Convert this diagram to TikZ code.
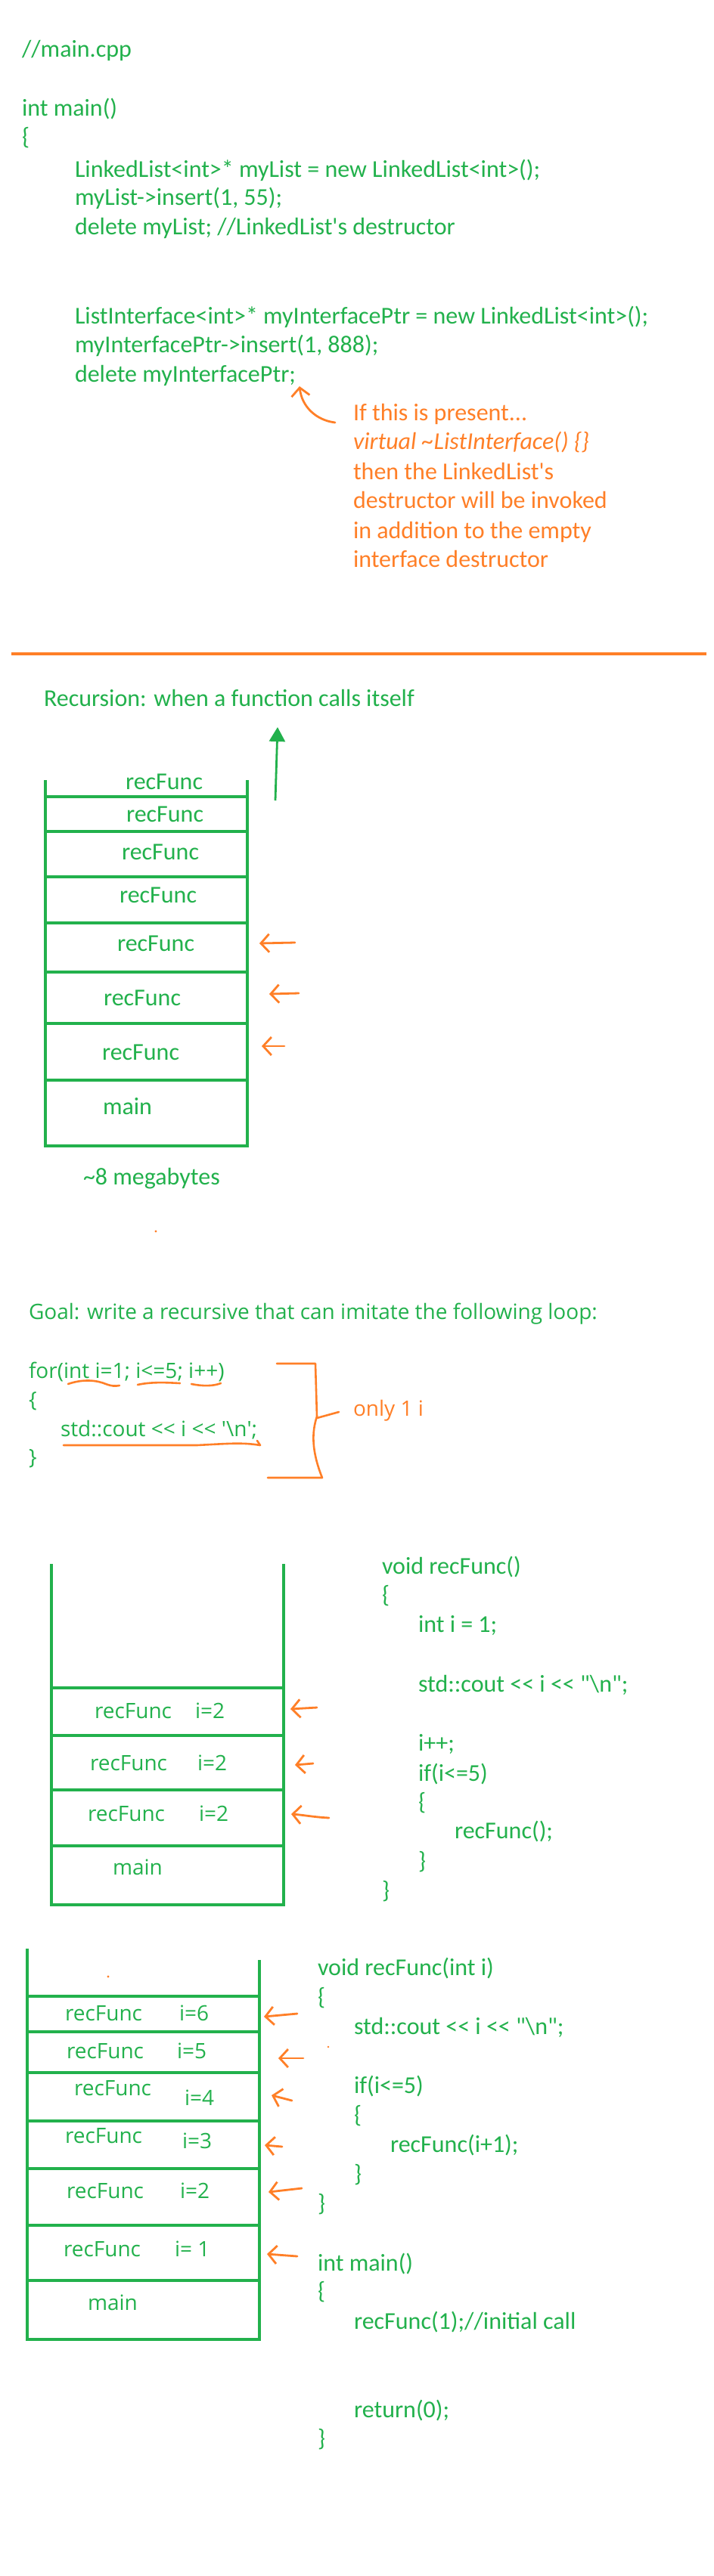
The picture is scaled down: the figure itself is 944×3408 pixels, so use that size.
\documentclass[tikz,border=0pt]{standalone}
\usepackage{fontspec}
\newfontfamily\calfnt{Carlito}
\newfontfamily\segfnt{Open Sans}
\usetikzlibrary{arrows.meta}
\definecolor{pg}{HTML}{22B14C}
\definecolor{po}{HTML}{FF7F27}
\begin{document}
\begin{tikzpicture}[x=1pt,y=-1pt,
  every node/.style={inner sep=0pt,outer sep=0pt},
  cal/.style={anchor=base west,font=\calfnt\fontsize{32}{38}\selectfont,text=pg},
  calo/.style={cal,text=po},
  sg/.style={anchor=base west,font=\segfnt\fontsize{28}{33}\selectfont,text=pg},
  sgo/.style={sg,text=po},
  stk/.style={draw=pg,line width=4.5pt},
  harrow/.style={draw=po,line width=2.8pt,line cap=round,line join=round,-{Straight Barb[length=11pt,width=24pt]}},
  oline/.style={draw=po,line width=2.6pt,line cap=round,line join=round},
  dot/.style={fill=po,draw=none}
]
\useasboundingbox[fill=white] (0,0) rectangle (944,3408);

% ---------- Section 1 ----------
\node[cal] (t1) at (29,75) {//main.cpp};
\node[cal] (t2) at (29,153) {int main()};
\node[cal] (t3) at (29,191) {\{};
\node[cal] (t4) at (99,234) {LinkedList<int>* myList = new LinkedList<int>();};
\node[cal] (t5) at (99,271) {myList->insert(1, 55);};
\node[cal] (t6) at (99,310) {delete myList; //LinkedList\textquotesingle s destructor};
\node[cal] (t7) at (99,428) {ListInterface<int>* myInterfacePtr = new LinkedList<int>();};
\node[cal] (t8) at (99,466) {myInterfacePtr->insert(1, 888);};
\node[cal] (t9) at (99,505) {delete myInterfacePtr;};

\node[calo] (n1) at (467,556) {If this is present...};
\node[calo] (n2) at (467,594) {\itshape virtual \textasciitilde ListInterface() \{\}};
\node[calo] (n3) at (467,634) {then the LinkedList\textquotesingle s};
\node[calo] (n4) at (467,672) {destructor will be invoked};
\node[calo] (n5) at (467,712) {in addition to the empty};
\node[calo] (n6) at (467,750) {interface destructor};

\coordinate (a0s) at (443,559);
\coordinate (a0e) at (396,511);
\draw[harrow] (a0s) .. controls (418,556) and (399,538) .. (a0e);

% ---------- Section 2 ----------
\coordinate (r1) at (15,865);
\coordinate (r2) at (934,865);
\draw[po,line width=4pt] (r1) -- (r2);

\node[cal] (rec) at (58,934) {Recursion: when a function calls itself};
\coordinate (g1) at (364,1059);
\coordinate (g2) at (367,962);
\draw[pg,line width=2.8pt,-{Triangle[length=19pt,width=21pt]}] (g1) -- (g2);

\draw[stk] (60,1032) -- (60,1516) -- (327,1516) -- (327,1032);
\foreach \yy in {1054,1100,1160,1221,1286,1354,1429}
  \draw[stk] (60,\yy) -- (328,\yy);

\node[cal] (s1a) at (166,1044) {recFunc};
\node[cal] (s1b) at (167,1087) {recFunc};
\node[cal] (s1c) at (161,1137) {recFunc};
\node[cal] (s1d) at (158,1194) {recFunc};
\node[cal] (s1e) at (155,1258) {recFunc};
\node[cal] (s1f) at (137,1330) {recFunc};
\node[cal] (s1g) at (135,1402) {recFunc};
\node[cal] (s1m) at (136,1474) {main};
\node[cal] (mb) at (110,1567) {\textasciitilde 8 megabytes};

\coordinate (b1s) at (390,1247); \coordinate (b1e) at (343,1248);
\coordinate (b2s) at (395,1314); \coordinate (b2e) at (356,1315);
\coordinate (b3s) at (376,1384); \coordinate (b3e) at (346,1384);
\draw[harrow] (b1s) -- (b1e);
\draw[harrow] (b2s) -- (b2e);
\draw[harrow] (b3s) -- (b3e);

% ---------- Section 3 ----------
\fill[dot] (206,1629) circle (1.6);
\node[sg] (goal) at (38,1745) {Goal: write a recursive that can imitate the following loop:};
\node[sg] (f1) at (38,1823) {for(int i=1; i<=5; i++)};
\node[sg] (f2) at (38,1861) {\{};
\node[sg] (f3) at (80,1900) {std::cout << i << \textquotesingle\textbackslash n\textquotesingle;};
\node[sg] (f4) at (38,1937) {\}};

\draw[oline] (90,1831) .. controls (110,1824) and (128,1826) .. (140,1831) .. controls (148,1834) and (152,1834) .. (158,1833);
\draw[oline] (182,1832) .. controls (200,1828) and (220,1829) .. (238,1830);
\draw[oline] (253,1831) .. controls (268,1834) and (282,1834) .. (292,1830);
\draw[oline] (84,1912) -- (260,1912) .. controls (300,1910) and (320,1908) .. (344,1912) -- (340,1906);

\draw[oline] (366,1804) -- (417,1804) -- (419,1874) .. controls (412,1895) and (412,1920) .. (426,1955) -- (354,1955);
\draw[oline] (419,1876) -- (448,1868);
\node[sgo] (only) at (467,1873) {only 1 i};

\draw[stk] (68,2069) -- (68,2520) -- (375,2520) -- (375,2069);
\foreach \yy in {2233,2296,2368,2442}
  \draw[stk] (68,\yy) -- (375,\yy);

\node[sg] (s2a) at (125,2273) {recFunc};
\node[sg] (s2ai) at (258,2273) {i=2};
\node[sg] (s2b) at (119,2342) {recFunc};
\node[sg] (s2bi) at (261,2342) {i=2};
\node[sg] (s2c) at (116,2409) {recFunc};
\node[sg] (s2ci) at (263,2409) {i=2};
\node[sg] (s2m) at (149,2480) {main};

\coordinate (c1s) at (419,2259); \coordinate (c1e) at (384,2261);
\coordinate (c2s) at (414,2333); \coordinate (c2e) at (390,2335);
\coordinate (c3s) at (435,2405); \coordinate (c3e) at (385,2400);
\draw[harrow] (c1s) -- (c1e);
\draw[harrow] (c2s) -- (c2e);
\draw[harrow] (c3s) .. controls (415,2404) and (400,2401) .. (c3e);

\node[cal] (v1) at (505,2082) {void recFunc()};
\node[cal] (v2) at (505,2120) {\{};
\node[cal] (v3) at (553,2159) {int i = 1;};
\node[cal] (v4) at (553,2238) {std::cout << i << "\textbackslash n";};
\node[cal] (v5) at (553,2316) {i++;};
\node[cal] (v6) at (553,2356) {if(i<=5)};
\node[cal] (v7) at (553,2394) {\{};
\node[cal] (v8) at (601,2432) {recFunc();};
\node[cal] (v9) at (553,2472) {\}};
\node[cal] (v10) at (505,2511) {\}};

% ---------- Section 4 ----------
\fill[dot] (143,2615) circle (1.6);
\fill[dot] (434,2708) circle (1.3);
\draw[stk] (36,2578) -- (36,3095) -- (343,3095) -- (343,2593);
\foreach \yy in {2641,2688,2742,2806,2869,2944,3017}
  \draw[stk] (36,\yy) -- (344,\yy);

\node[sg] (s3a) at (86,2673) {recFunc};
\node[sg] (s3ai) at (237,2673) {i=6};
\node[sg] (s3b) at (88,2723) {recFunc};
\node[sg] (s3bi) at (234,2723) {i=5};
\node[sg] (s3c) at (98,2772) {recFunc};
\node[sg] (s3ci) at (244,2785) {i=4};
\node[sg] (s3d) at (86,2835) {recFunc};
\node[sg] (s3di) at (241,2842) {i=3};
\node[sg] (s3e) at (88,2908) {recFunc};
\node[sg] (s3ei) at (238,2908) {i=2};
\node[sg] (s3f) at (84,2985) {recFunc};
\node[sg] (s3fi) at (231,2985) {i= 1};
\node[sg] (s3m) at (116,3056) {main};

\coordinate (d1s) at (393,2664); \coordinate (d1e) at (349,2668);
\coordinate (d2s) at (401,2723); \coordinate (d2e) at (368,2723);
\coordinate (d3s) at (386,2779); \coordinate (d3e) at (359,2772);
\coordinate (d4s) at (373,2840); \coordinate (d4e) at (350,2838);
\coordinate (d5s) at (399,2895); \coordinate (d5e) at (355,2900);
\coordinate (d6s) at (393,2985); \coordinate (d6e) at (353,2982);
\draw[harrow] (d1s) -- (d1e);
\draw[harrow] (d2s) -- (d2e);
\draw[harrow] (d3s) -- (d3e);
\draw[harrow] (d4s) -- (d4e);
\draw[harrow] (d5s) -- (d5e);
\draw[harrow] (d6s) -- (d6e);

\node[cal] (w1) at (420,2613) {void recFunc(int i)};
\node[cal] (w2) at (420,2652) {\{};
\node[cal] (w3) at (468,2691) {std::cout << i << "\textbackslash n";};
\node[cal] (w4) at (468,2769) {if(i<=5)};
\node[cal] (w5) at (468,2808) {\{};
\node[cal] (w6) at (516,2847) {recFunc(i+1);};
\node[cal] (w7) at (468,2886) {\}};
\node[cal] (w8) at (420,2925) {\}};
\node[cal] (w9) at (420,3004) {int main()};
\node[cal] (w10) at (420,3041) {\{};
\node[cal] (w11) at (468,3081) {recFunc(1);//initial call};
\node[cal] (w12) at (468,3198) {return(0);};
\node[cal] (w13) at (420,3236) {\}};
\end{tikzpicture}
\end{document}
